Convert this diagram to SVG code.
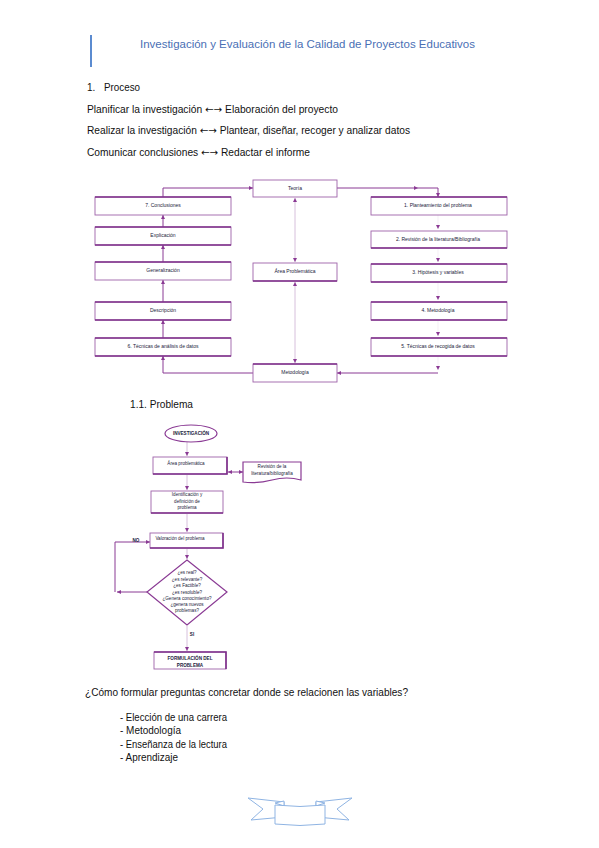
<svg xmlns="http://www.w3.org/2000/svg" width="599" height="848" viewBox="0 0 599 848">
<style>
.box{fill:#fff;stroke:#9e62a9;stroke-width:0.9}
.sh{fill:none;stroke:#7e2f8a;stroke-width:1.6}
.t{font-family:"Liberation Sans",Arial,sans-serif;font-size:5px;fill:#22223a;text-anchor:middle}
.tf{font-family:"Liberation Sans",Arial,sans-serif;font-size:4.6px;fill:#22223a;text-anchor:middle}
.body{font-family:"Liberation Sans",Arial,sans-serif;font-size:10px;fill:#111}
.ar{font-family:"DejaVu Sans",sans-serif}
.c{fill:none;stroke:#8a3a94;stroke-width:1}
.cl{fill:none;stroke:#cdb0d3;stroke-width:0.8}
.cf{fill:none;stroke:#efe4f0;stroke-width:0.6}
.rib{fill:#fff;stroke:#8fb4e3;stroke-width:1}
</style>
<defs>
<marker id="ah" viewBox="0 0 6 6" refX="6" refY="3" markerWidth="4" markerHeight="4" orient="auto-start-reverse" markerUnits="userSpaceOnUse"><path d="M0,0 L6,3 L0,6 z" fill="#8a3a94"/></marker>
</defs>
<rect width="599" height="848" fill="#fff"/>

<g id="header">
<line x1="91" y1="35" x2="91" y2="67" stroke="#5b8bd0" stroke-width="2"/>
<text x="140" y="48" font-family="'Liberation Sans',Arial,sans-serif" font-size="11.5" fill="#4a6fb5" textLength="335" lengthAdjust="spacingAndGlyphs">Investigación y Evaluación de la Calidad de Proyectos Educativos</text>
</g>

<g id="intro">
<text class="body" x="87" y="91">1.</text>
<text class="body" x="104" y="91" textLength="36" lengthAdjust="spacingAndGlyphs">Proceso</text>
<text class="body" x="87" y="113" textLength="251" lengthAdjust="spacingAndGlyphs">Planificar la investigación <tspan class="ar">←→</tspan> Elaboración del proyecto</text>
<text class="body" x="87" y="134" textLength="323" lengthAdjust="spacingAndGlyphs">Realizar la investigación <tspan class="ar">←→</tspan> Plantear, diseñar, recoger y analizar datos</text>
<text class="body" x="87" y="156" textLength="223" lengthAdjust="spacingAndGlyphs">Comunicar conclusiones <tspan class="ar">←→</tspan> Redactar el informe</text>
</g>

<g id="connectors">
<path class="c" d="M163,197 V188 H253" marker-end="url(#ah)"/>
<path class="c" d="M163,227 V215" marker-end="url(#ah)"/>
<path class="c" d="M163,262 V245" marker-end="url(#ah)"/>
<path class="c" d="M163,302 V280" marker-end="url(#ah)"/>
<path class="c" d="M163,338 V320" marker-end="url(#ah)"/>
<path class="c" d="M253,373 H163 V356" marker-end="url(#ah)"/>
<path class="c" d="M337,188 H418" marker-end="url(#ah)"/>
<path class="c" d="M418,188 H438 V197" marker-end="url(#ah)"/>
<path class="cf" d="M438,215 V229" marker-end="url(#ah)"/>
<path class="cf" d="M438,248 V262" marker-end="url(#ah)"/>
<path class="cf" d="M438,282 V300" marker-end="url(#ah)"/>
<path class="cf" d="M438,320 V336" marker-end="url(#ah)"/>
<path class="cf" d="M438,356 V370" marker-end="url(#ah)"/>
<path class="c" d="M438,373 H337" marker-end="url(#ah)"/>
<path class="cl" d="M295,198 V262" marker-start="url(#ah)" marker-end="url(#ah)"/>
<path class="cl" d="M295,282 V363" marker-start="url(#ah)" marker-end="url(#ah)"/>

<path class="cl" d="M187,442 V456" marker-end="url(#ah)"/>
<path class="c" d="M228,472 H243" marker-start="url(#ah)" marker-end="url(#ah)"/>
<path class="cl" d="M187,475 V490" marker-end="url(#ah)"/>
<path class="cl" d="M187,514 V532" marker-end="url(#ah)"/>
<path class="cl" d="M187,549 V559" marker-end="url(#ah)"/>
<path class="c" d="M147,592 H117" marker-end="url(#ah)"/>
<path class="c" d="M115,592 V542 H150" marker-end="url(#ah)"/>
<path class="cl" d="M187,626 V651" marker-end="url(#ah)"/>
</g>

<g id="teoria"><rect class="box" x="253" y="180" width="84" height="17"/><text class="t" x="295" y="190">Teoría</text></g>
<g id="conclusiones"><rect class="box" x="95" y="197" width="136" height="18"/><line class="sh" x1="95" y1="197" x2="231" y2="197"/><text class="t" x="163" y="207">7. Conclusiones</text></g>
<g id="explicacion"><rect class="box" x="95" y="227" width="136" height="18"/><line class="sh" x1="95" y1="227" x2="231" y2="227"/><line class="sh" x1="95" y1="245" x2="231" y2="245"/><text class="t" x="163" y="237">Explicación</text></g>
<g id="generalizacion"><rect class="box" x="95" y="262" width="136" height="18"/><line class="sh" x1="95" y1="262" x2="231" y2="262"/><text class="t" x="163" y="272">Generalización</text></g>
<g id="descripcion"><rect class="box" x="95" y="302" width="136" height="18"/><line class="sh" x1="95" y1="302" x2="231" y2="302"/><line class="sh" x1="95" y1="320" x2="231" y2="320"/><text class="t" x="163" y="312">Descripción</text></g>
<g id="tecnicas-analisis"><rect class="box" x="95" y="338" width="136" height="18"/><line class="sh" x1="95" y1="338" x2="231" y2="338"/><line class="sh" x1="95" y1="356" x2="231" y2="356"/><text class="t" x="163" y="348">6. Técnicas de análisis de datos</text></g>
<g id="area-problematica"><rect class="box" x="253" y="263" width="84" height="18"/><line class="sh" x1="253" y1="281" x2="337" y2="281"/><text class="t" x="295" y="273">Área Problemática</text></g>
<g id="metodologia-centro"><rect class="box" x="253" y="364" width="84" height="18"/><line class="sh" x1="253" y1="364" x2="337" y2="364"/><text class="t" x="295" y="374">Metodología</text></g>
<g id="planteamiento"><rect class="box" x="371" y="197" width="136" height="18"/><line class="sh" x1="371" y1="197" x2="507" y2="197"/><text class="t" x="438" y="207">1. Planteamiento del problema</text></g>
<g id="revision-lit"><rect class="box" x="371" y="231" width="136" height="17"/><line class="sh" x1="371" y1="248" x2="507" y2="248"/><text class="t" x="438" y="241">2. Revisión de la literatura/Bibliografía</text></g>
<g id="hipotesis"><rect class="box" x="371" y="264" width="136" height="18"/><line class="sh" x1="371" y1="264" x2="507" y2="264"/><line class="sh" x1="371" y1="282" x2="507" y2="282"/><text class="t" x="438" y="274">3. Hipótesis y variables</text></g>
<g id="metodologia"><rect class="box" x="371" y="302" width="136" height="18"/><line class="sh" x1="371" y1="302" x2="507" y2="302"/><line class="sh" x1="371" y1="320" x2="507" y2="320"/><text class="t" x="438" y="312">4. Metodología</text></g>
<g id="tecnicas-recogida"><rect class="box" x="371" y="338" width="136" height="18"/><line class="sh" x1="371" y1="338" x2="507" y2="338"/><line class="sh" x1="371" y1="356" x2="507" y2="356"/><text class="t" x="438" y="348">5. Técnicas de recogida de datos</text></g>

<text class="body" x="130" y="408" textLength="63" lengthAdjust="spacingAndGlyphs">1.1.  Problema</text>

<g id="investigacion"><ellipse cx="191" cy="433.5" rx="26" ry="8.5" fill="#fff" stroke="#8a3a94" stroke-width="1.2"/><text class="tf" x="191" y="435" font-weight="bold">INVESTIGACIÓN</text></g>
<g id="f-area"><rect class="box" x="153" y="457" width="74" height="17"/><path class="sh" d="M153,474 H227 V457"/><text class="tf" x="186" y="465">Área problemática</text></g>
<g id="f-revision"><path d="M243,462 H301 V480 Q287,476 272,480 T243,482 Z" fill="#fff" stroke="#8a3a94" stroke-width="1.2"/><text class="tf" x="272" y="468">Revisión de la</text><text class="tf" x="272" y="475">literatura/bibliografía</text></g>
<g id="f-identificacion"><rect class="box" x="151" y="491" width="72" height="22"/><path class="sh" d="M151,513 H223"/><text class="tf" x="187" y="496">Identificación y</text><text class="tf" x="187" y="502.5">definición de</text><text class="tf" x="187" y="509">problema</text></g>
<g id="f-valoracion"><rect class="box" x="150" y="533" width="73" height="15"/><path class="sh" d="M150,548 H223 V533"/><text class="tf" x="180" y="540">Valoración del problema</text></g>
<g id="f-decision"><path d="M187,560 L227,592 L187,625 L147,592 Z" fill="#fff" stroke="#8a3a94" stroke-width="1.2"/>
<text class="tf" x="187" y="574">¿es real?</text>
<text class="tf" x="187" y="580.5">¿es relevante?</text>
<text class="tf" x="187" y="587">¿es Factible?</text>
<text class="tf" x="187" y="593.5">¿es resoluble?</text>
<text class="tf" x="187" y="600">¿Genera conocimiento?</text>
<text class="tf" x="187" y="606">¿genera nuevos</text>
<text class="tf" x="187" y="612">problemas?</text></g>
<text class="tf" x="136" y="542" font-weight="bold">NO</text>
<text class="tf" x="192" y="636" font-weight="bold">SI</text>
<g id="f-formulacion"><rect class="box" x="154" y="652" width="72" height="17"/><path class="sh" d="M154,652 H226 V669"/><text class="tf" x="190" y="660" font-weight="bold">FORMULACIÓN DEL</text><text class="tf" x="190" y="667" font-weight="bold">PROBLEMA</text></g>

<g id="outro">
<text class="body" x="85" y="696" textLength="323" lengthAdjust="spacingAndGlyphs">¿Cómo formular preguntas concretar donde se relacionen las variables?</text>
<text class="body" x="120" y="721" textLength="107" lengthAdjust="spacingAndGlyphs">- Elección de una carrera</text>
<text class="body" x="120" y="734" textLength="61" lengthAdjust="spacingAndGlyphs">- Metodología</text>
<text class="body" x="120" y="748" textLength="107" lengthAdjust="spacingAndGlyphs">- Enseñanza de la lectura</text>
<text class="body" x="120" y="761" textLength="58" lengthAdjust="spacingAndGlyphs">- Aprendizaje</text>
</g>

<g id="footer-ribbon">
<path class="rib" d="M248,798 L284,802 L284,817 L251,820 L263,809 Z"/>
<path class="rib" d="M352,798 L316,802 L316,817 L349,820 L337,809 Z"/>
<path class="rib" d="M275,803 L284,801 L284,806 Z"/>
<path class="rib" d="M325,803 L316,801 L316,806 Z"/>
<path class="rib" d="M275,805 Q300,808 325,805 L325,824 Q300,827 275,824 Z"/>
</g>
</svg>
